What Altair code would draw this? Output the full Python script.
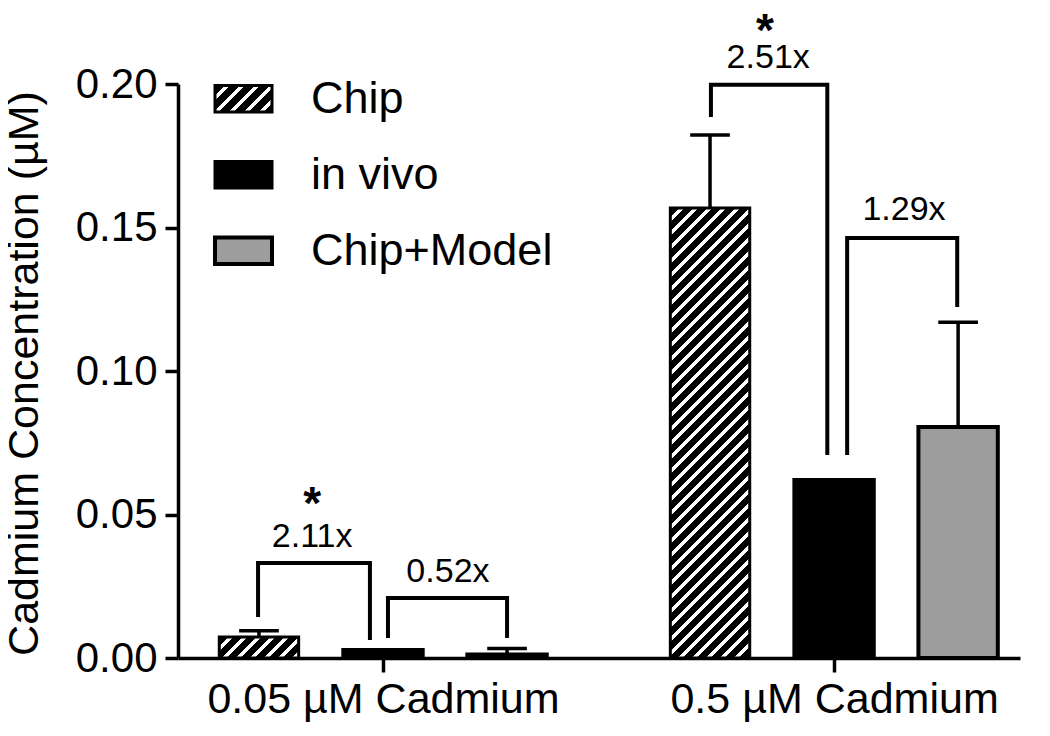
import altair as alt
import pandas as pd

# ---------------- data ----------------
groups = ["0.05 µM Cadmium", "0.5 µM Cadmium"]
series = ["Chip", "in vivo", "Chip+Model"]
chip = [0.0073, 0.1568]
chip_err = [0.0095, 0.1822]
invivo = [0.0028, 0.0620]
model = [0.0012, 0.0805]
model_err = [0.0033, 0.1170]

fold_labels = ["2.11x", "0.52x", "2.51x", "1.29x"]
fold_x = [-0.157, 0.144, 0.854, 1.155]
fold_y = [0.0387, 0.0265, 0.2056, 0.1526]
star_x = [-0.157, 0.847]
star_y = [0.0484, 0.2132]
br_xl = [-0.277, 0.011, 0.727, 1.029]
br_xr = [-0.029, 0.275, 0.985, 1.273]
br_yl = [0.0143, 0.0070, 0.1885, 0.0707]
br_yt = [0.0331, 0.0209, 0.1997, 0.1463]
br_yr = [0.0063, 0.0070, 0.0707, 0.1223]

# ---------------- layout ----------------
W, H = 842, 574
XMIN, XMAX = -0.4545, 1.4122
YMAX = 0.2
PX = W / (XMAX - XMIN)
PY = H / YMAX
OFF = 0.275
HALF = 0.088
CAP = 0.044
FONT = "Liberation Sans"
GRAY = "#9d9d9d"


def hatch(w, h, period=14.0, white=0.32):
    k = (1 / h + 1 / w) / (1 / h ** 2 + 1 / w ** 2)
    x2, y2 = k / h, k / w
    step = period / (w + h)
    stops = []
    t = 0.0
    while t < 1.0:
        b = min(t + step * (1 - white), 1.0)
        c = min(t + step, 1.0)
        stops += [
            {"offset": round(t, 5), "color": "black"},
            {"offset": round(b, 5), "color": "black"},
            {"offset": round(b, 5), "color": "white"},
            {"offset": round(c, 5), "color": "white"},
        ]
        t += step
    return {"gradient": "linear", "x1": 0, "y1": 0, "x2": x2, "y2": y2, "stops": stops}


xs = alt.Scale(domain=[XMIN, XMAX], nice=False, zero=False)
ys = alt.Scale(domain=[0, YMAX], nice=False, zero=True)

label_expr = f"datum.value == 0 ? '{groups[0]}' : '{groups[1]}'"
xaxis = alt.Axis(
    values=[0, 1], labelExpr=label_expr, title=None, grid=False,
    tickSize=14, tickWidth=3.5, tickColor="black",
    domainColor="black", domainWidth=3.5,
    labelFont=FONT, labelFontSize=43, labelColor="black", labelPadding=6,
    labelOverlap=False, labelFlush=False, labelLimit=600,
)
yaxis = alt.Axis(
    values=[0, 0.05, 0.10, 0.15, 0.20], format=".2f", grid=False,
    tickSize=13, tickWidth=3.5, tickColor="black",
    domainColor="black", domainWidth=3.5,
    labelFont=FONT, labelFontSize=42, labelColor="black", labelPadding=8,
    title="Cadmium Concentration (µM)", titleFont=FONT, titleFontSize=43,
    titleFontWeight="normal", titleColor="black",
    titleX=-154, titleY=H / 2 + 2, titleBaseline="middle", titleAlign="center",
    titleAngle=270, titleLimit=700,
)


def X(f):
    return alt.X(f, type="quantitative", scale=xs, axis=xaxis)


def Y(f):
    return alt.Y(f, type="quantitative", scale=ys, axis=yaxis)


layers = []

# Chip bars (hatched) – each with its own gradient sized to the bar
for g in range(2):
    c = g - OFF
    df = pd.DataFrame({"x1": [c - HALF], "x2": [c + HALF], "v": [chip[g]], "z": [0.0]})
    w = 2 * HALF * PX
    h = max(chip[g] * PY, 1.0)
    layers.append(
        alt.Chart(df).mark_rect(fill=hatch(w, h), stroke="black", strokeWidth=3)
        .encode(x=X("x1"), x2="x2", y=Y("v"), y2="z")
    )

# in vivo and Chip+Model bars
rows = []
for g in range(2):
    rows.append({"s": series[1], "x1": g - HALF, "x2": g + HALF, "v": invivo[g], "z": 0.0})
    rows.append({"s": series[2], "x1": g + OFF - HALF, "x2": g + OFF + HALF, "v": model[g], "z": 0.0})
bdf = pd.DataFrame(rows)
layers.append(
    alt.Chart(bdf).mark_rect(stroke="black", strokeWidth=4)
    .encode(
        x=X("x1"), x2="x2", y=Y("v"), y2="z",
        fill=alt.Fill("s:N", scale=alt.Scale(domain=series[1:], range=["black", GRAY]), legend=None),
    )
)

# error bars
erows = []
for g in range(2):
    erows.append({"x": g - OFF, "v": chip[g], "e": chip_err[g]})
    erows.append({"x": g + OFF, "v": model[g], "e": model_err[g]})
edf = pd.DataFrame(erows)
edf["xl"] = edf["x"] - CAP
edf["xr"] = edf["x"] + CAP
layers.append(
    alt.Chart(edf).mark_rule(color="black", strokeWidth=3.5)
    .encode(x=X("x"), y=Y("v"), y2="e")
)
layers.append(
    alt.Chart(edf).mark_rule(color="black", strokeWidth=3.5)
    .encode(x=X("xl"), x2="xr", y=Y("e"))
)

# brackets
brows = []
for i in range(4):
    pts = [(br_xl[i], br_yl[i]), (br_xl[i], br_yt[i]), (br_xr[i], br_yt[i]), (br_xr[i], br_yr[i])]
    for j, (px, py) in enumerate(pts):
        brows.append({"id": i, "o": j, "x": px, "y": py})
brdf = pd.DataFrame(brows)
layers.append(
    alt.Chart(brdf).mark_line(color="black", strokeWidth=4, strokeCap="butt", strokeJoin="miter")
    .encode(x=X("x"), y=Y("y"), detail="id:N", order="o:Q")
)

# fold-change labels and stars
tdf = pd.DataFrame({"x": fold_x, "y": fold_y, "t": fold_labels})
layers.append(
    alt.Chart(tdf).mark_text(font=FONT, fontSize=34, color="black", align="center", baseline="alphabetic")
    .encode(x=X("x"), y=Y("y"), text="t:N")
)
sdf = pd.DataFrame({"x": star_x, "y": star_y, "t": ["*", "*"]})
layers.append(
    alt.Chart(sdf).mark_text(font=FONT, fontSize=46, fontWeight="bold", color="black",
                             align="center", baseline="alphabetic")
    .encode(x=X("x"), y=Y("y"), text="t:N")
)

# manual legend
one = pd.DataFrame({"a": [0]})
leg_fills = [hatch(57, 26.5, period=15), "black", GRAY]
leg_sw = [3, 3, 4]
for i, name in enumerate(series):
    top = 1.5 + 76 * i
    layers.append(
        alt.Chart(one).mark_rect(fill=leg_fills[i], stroke="black", strokeWidth=leg_sw[i])
        .encode(x=alt.value(37), x2=alt.value(94), y=alt.value(top), y2=alt.value(top + 26.5))
    )
    layers.append(
        alt.Chart(one).mark_text(text=name, font=FONT, fontSize=45, color="black",
                                 align="left", baseline="alphabetic")
        .encode(x=alt.value(133), y=alt.value(29 + 76 * i))
    )

chart = (
    alt.layer(*layers)
    .properties(
        width=W, height=H,
        autosize=alt.AutoSizeParams(type="none"),
        padding={"left": 170, "top": 76, "right": 22, "bottom": 70},
        background="white",
    )
    .configure_view(stroke=None)
)

chart.save("out.html", embed_options={"renderer": "svg", "actions": False})
